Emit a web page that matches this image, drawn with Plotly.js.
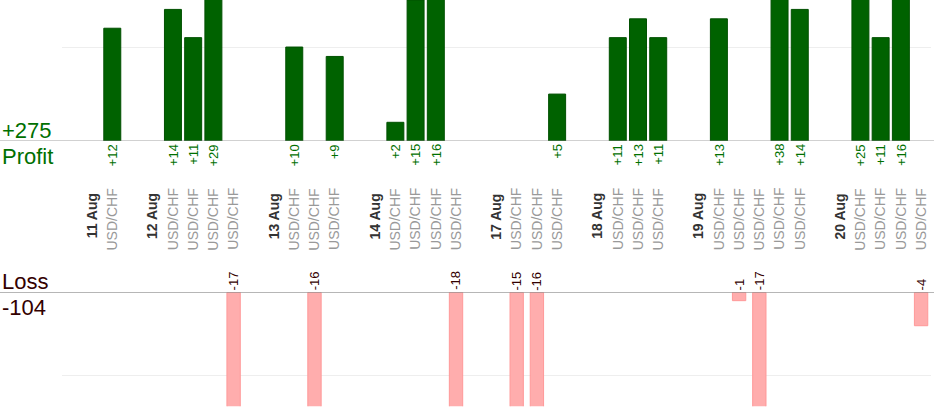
<!DOCTYPE html>
<html>
<head>
<meta charset="utf-8">
<script src="https://cdn.plot.ly/plotly-3.0.1.min.js"></script>
<style>
  html, body { margin: 0; padding: 0; background: #fff; }
  #graph { width: 934px; height: 420px; }
</style>
</head>
<body>
<div id="graph"></div>
<script>
var days = ['11 Aug', '12 Aug', '13 Aug', '14 Aug', '17 Aug', '18 Aug', '19 Aug', '20 Aug'];
var pair = 'USD/CHF';
// result of each trade, in pips, per day
var trades = [
  [12],
  [14, 11, 29, -17],
  [10, -16, 9],
  [2, 15, 16, -18],
  [-15, -16, 5],
  [11, 13, 11],
  [13, -1, -17, 38, 14],
  [25, 11, 16, -4]
];

var font = '"Liberation Sans", Arial, sans-serif';
var green = '#007000';
var darkRed = '#330000';

var win_x = [], win_y = [];
var loss_x = [], loss_y = [];
var annotations = [];
var slot = 0;

for (let d = 0; d < days.length; d++) {
  slot++;  // empty slot before each day
  annotations.push({
    x: slot, xref: 'x', y: 0.485, yref: 'paper',
    text: '<b>' + days[d] + '</b>', textangle: -90, showarrow: false,
    xanchor: 'center', yanchor: 'middle',
    font: {family: font, size: 14, color: '#333333'}
  });
  slot++;
  for (let t = 0; t < trades[d].length; t++) {
    var v = trades[d][t];
    annotations.push({
      x: slot, xref: 'x', y: 0.478, yref: 'paper',
      text: pair, textangle: -90, showarrow: false,
      xanchor: 'center', yanchor: 'middle',
      font: {family: font, size: 14, color: '#999999'}
    });
    if (v > 0) {
      win_x.push(slot); win_y.push(v);
      annotations.push({
        x: slot, xref: 'x', y: 0, yref: 'y',
        text: '+' + v, textangle: -90, showarrow: false,
        xanchor: 'center', yanchor: 'top', yshift: -1,
        font: {family: font, size: 13, color: green}
      });
    } else {
      loss_x.push(slot); loss_y.push(v);
      annotations.push({
        x: slot, xref: 'x2', y: 0, yref: 'y2',
        text: String(v), textangle: -90, showarrow: false,
        xanchor: 'center', yanchor: 'bottom', yshift: 0,
        font: {family: font, size: 13, color: darkRed}
      });
    }
    slot++;
  }
}

var profit = win_y.reduce((a, b) => a + b, 0);
var loss = loss_y.reduce((a, b) => a + b, 0);

annotations.push(
  {x: 0, xref: 'paper', y: 0.664, yref: 'paper', text: '+' + profit, showarrow: false,
   xanchor: 'left', yanchor: 'bottom', yshift: -4, font: {family: font, size: 22, color: green}},
  {x: 0, xref: 'paper', y: 0.664, yref: 'paper', text: 'Profit', showarrow: false,
   xanchor: 'left', yanchor: 'top', yshift: -1, font: {family: font, size: 22, color: green}},
  {x: 0, xref: 'paper', y: 0.304, yref: 'paper', text: 'Loss', showarrow: false,
   xanchor: 'left', yanchor: 'bottom', yshift: -4, font: {family: font, size: 22, color: darkRed}},
  {x: 0, xref: 'paper', y: 0.304, yref: 'paper', text: String(loss), showarrow: false,
   xanchor: 'left', yanchor: 'top', yshift: -1, font: {family: font, size: 22, color: darkRed}}
);

var trace_win = {
  x: win_x, y: win_y, type: 'bar', xaxis: 'x', yaxis: 'y',
  width: 0.84,
  marker: {color: '#006200', line: {color: '#005000', width: 1}},
  hoverinfo: 'y'
};

var trace_loss = {
  x: loss_x, y: loss_y, type: 'bar', xaxis: 'x2', yaxis: 'y2',
  width: 0.66,
  marker: {color: '#ffadad', line: {color: '#ff9999', width: 1}},
  hoverinfo: 'y'
};

var xrange = [-0.5, slot - 0.5];

var layout = {
  width: 934, height: 420,
  margin: {l: 0, r: 0, t: 0, b: 0},
  paper_bgcolor: '#ffffff', plot_bgcolor: '#ffffff',
  showlegend: false,
  font: {family: font},
  xaxis: {domain: [0.0661, 0.997], range: xrange, anchor: 'y',
          showticklabels: false, showgrid: false, zeroline: false, fixedrange: true},
  xaxis2: {domain: [0.0661, 0.997], range: xrange, anchor: 'y2',
           showticklabels: false, showgrid: false, zeroline: false, fixedrange: true},
  yaxis: {domain: [0.664, 1], range: [0, 15], tickvals: [10], showticklabels: false,
          showgrid: true, gridcolor: '#eeeeee', zeroline: false, fixedrange: true},
  yaxis2: {domain: [0.0326, 0.304], range: [-13.65, 0], tickvals: [-10], showticklabels: false,
           showgrid: true, gridcolor: '#eeeeee', zeroline: false, fixedrange: true},
  shapes: [
    {type: 'line', xref: 'paper', x0: 0, x1: 1, yref: 'y', y0: 0, y1: 0,
     line: {color: '#888888', width: 1}},
    {type: 'line', xref: 'paper', x0: 0, x1: 1, yref: 'y2', y0: 0, y1: 0,
     line: {color: '#888888', width: 1}}
  ],
  annotations: annotations
};

Plotly.newPlot('graph', [trace_win, trace_loss], layout, {displayModeBar: false, staticPlot: true});
</script>
</body>
</html>
